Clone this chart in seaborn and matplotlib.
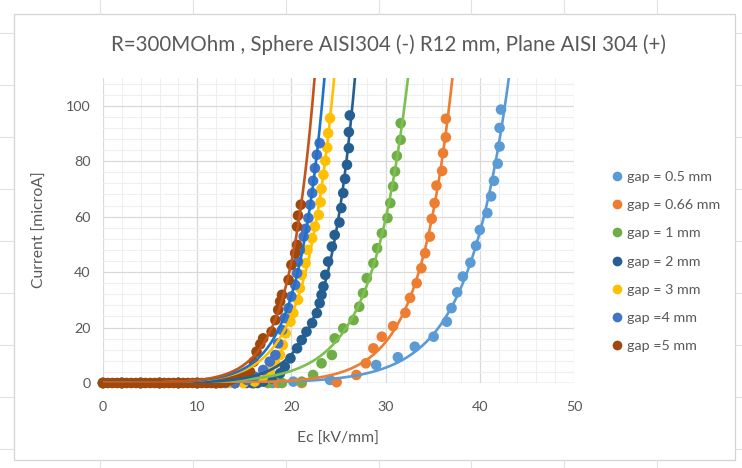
import numpy as np
import pandas as pd
import matplotlib
matplotlib.use("Agg")
import matplotlib.pyplot as plt
import seaborn as sns
from matplotlib.lines import Line2D
from matplotlib.patches import Rectangle

# ---------------- data ----------------
title = "R=300MOhm , Sphere AISI304 (-) R12 mm, Plane AISI 304 (+)"
x_label = "Ec [kV/mm]"
y_label = "Current [microA]"
labels = ["gap = 0.5 mm", "gap = 0.66 mm", "gap = 1 mm", "gap = 2 mm",
          "gap = 3 mm", "gap =4 mm", "gap =5 mm"]
point_colors = ["#5B9BD5", "#ED7D31", "#70AD47", "#255E91",
                "#FFC000", "#4472C4", "#9E480E"]
line_colors = ["#5B9BD5", "#ED7D31", "#7CC14F", "#255E91",
               "#FFC000", "#1A73C8", "#C0561A"]
x_ticks = [0, 10, 20, 30, 40, 50]
y_ticks = [0, 20, 40, 60, 80, 100]

ec_05 = [0, 2, 4, 6, 8, 10, 12, 14, 16, 18, 20.2, 24.1, 29.0, 31.3, 33.1, 35.1,
         36.5, 37.0, 37.6, 38.2, 39.0, 39.6, 40.0, 40.8, 41.2, 41.5, 41.9, 42.1,
         42.1, 42.25]
i_05 = [0, 0, 0, 0, 0, 0, 0, 0, 0, 0, 0.5, 1.1, 6.5, 9.3, 13.1, 16.7,
        22.1, 27.0, 32.7, 38.4, 43.4, 49.5, 55.2, 61.3, 67.3, 72.9, 79.1, 85.3,
        92.0, 98.6]

ec_066 = [0, 2, 4, 6, 8, 10, 12, 14, 16, 18.6, 21.1, 24.8, 26.9, 27.9, 28.7,
          29.6, 30.8, 32.1, 32.6, 33.3, 33.8, 34.2, 34.7, 34.9, 35.2, 35.4,
          36.0, 36.1, 36.4, 36.4]
i_066 = [0, 0, 0, 0, 0, 0, 0, 0, 0, 0, 0, 0.3, 2.9, 7.1, 12.5,
         16.7, 20.5, 25.3, 30.7, 36.0, 41.4, 46.8, 52.8, 59.2, 64.9, 71.2,
         76.5, 82.9, 88.6, 95.3]

ec_1 = [0, 2, 4, 6, 8, 10, 12, 14, 16, 17.5, 19.0, 21.1, 22.3, 23.2, 24.3,
        24.6, 25.5, 26.6, 27.2, 27.6, 28.0, 28.7, 29.1, 29.6, 30.2, 30.5,
        30.8, 31.0, 31.2, 31.6, 31.6]
i_1 = [0, 0, 0, 0, 0, 0, 0, 0, 0, 0, 0, 0.5, 2.9, 7.1, 10.1,
       16.1, 19.7, 22.7, 27.5, 32.4, 37.8, 43.2, 48.6, 54.0, 59.5, 64.9,
       70.9, 76.3, 81.9, 87.7, 93.7]

ec_2 = [0, 2, 4, 6, 8, 10, 12, 14, 15.2, 15.8, 16.4, 17.0, 17.9, 18.8, 19.3,
        19.9, 20.6, 21.1, 21.6, 22.2, 22.7, 23.0, 23.2, 23.4, 23.6, 23.9, 24.3,
        24.6, 25.1, 25.3, 25.5, 25.7, 25.9, 26.1, 26.1, 26.2]
i_2 = [0, 0, 0, 0, 0, 0, 0, 0, 0, 0, 0, 0.5, 1.7, 3.5, 5.9,
       8.9, 12.5, 15.5, 18.5, 21.6, 25.2, 28.8, 31.8, 34.8, 39.0, 43.8, 49.2,
       53.4, 57.9, 63.1, 68.5, 73.6, 78.7, 84.7, 90.5, 96.5]

ec_3 = [0, 2, 4, 6, 8, 10, 12, 13.5, 14.9, 16.1, 17.0, 17.7, 18.3, 18.8,
        19.1, 19.4, 19.9, 20.2, 20.7, 20.9, 21.1, 21.5, 21.7, 22.2, 22.5, 22.9,
        23.1, 23.2, 23.4, 23.6, 23.8, 23.9, 24.1]
i_3 = [0, 0, 0, 0, 0, 0, 0, 0, 0, 0.5, 2.3, 4.1, 7.1, 10.1,
       13.7, 17.9, 22.1, 25.2, 30.0, 34.2, 39.0, 43.2, 48.0, 52.2, 56.4, 60.6,
       65.2, 70.0, 75.1, 80.1, 84.9, 90.1, 95.5]

ec_4 = [0, 2, 4, 6, 8, 10, 12, 13.0, 14.0, 15.3, 16.1, 17.0, 17.7, 18.3,
        18.6, 19.0, 19.3, 19.7, 20.0, 20.4, 20.6, 20.7, 20.9, 21.3, 21.5, 21.8,
        22.0, 22.2, 22.3, 22.5, 22.7, 23.0]
i_4 = [0, 0, 0, 0, 0, 0, 0, 0, 0, 1.1, 2.3, 4.7, 7.7, 10.1,
       14.3, 19.1, 23.4, 27.0, 31.2, 35.4, 39.6, 43.8, 48.0, 52.8, 55.6, 59.5,
       64.3, 68.5, 72.9, 77.5, 82.3, 86.5]

ec_5 = [0, 0.5, 1, 1.5, 2, 2.5, 3, 3.5, 4, 4.5, 5, 5.5, 6, 6.5, 7, 7.5, 8,
        8.5, 9, 9.5, 10, 10.5, 11, 11.5, 12, 12.5, 13.0, 13.5, 13.9, 14.5,
        15.0, 15.6, 16.0, 16.3, 16.7, 17.0, 17.9, 18.3, 18.6, 18.8, 19.0, 19.7,
        20.0, 20.4, 20.6, 20.6, 20.7, 21.0]
i_5 = [0, 0, 0, 0, 0, 0, 0, 0, 0, 0, 0, 0, 0, 0, 0, 0, 0,
       0, 0, 0, 0, 0, 0, 0, 0, 0, 0.3, 1.1, 1.6, 2.3,
       3.0, 4.1, 7.7, 11.3, 14.0, 16.1, 18.5, 22.7, 26.4, 29.4, 31.8, 37.2,
       42.6, 46.8, 49.8, 56.4, 60.4, 64.3]

series_x = [ec_05, ec_066, ec_1, ec_2, ec_3, ec_4, ec_5]
series_y = [i_05, i_066, i_1, i_2, i_3, i_4, i_5]

frames = []
for lab, xs, ys in zip(labels, series_x, series_y):
    frames.append(pd.DataFrame({"Ec": xs, "I": ys, "gap": lab}))
df = pd.concat(frames, ignore_index=True)

# ---------------- style ----------------
sns.set_style("white")
plt.rcParams["font.family"] = ["Lato", "DejaVu Sans"]
txt = "#595959"

fig = plt.figure(figsize=(7.42, 4.68), dpi=100)
fig.patch.set_facecolor("white")

# spreadsheet background lines + chart border
W, H = 742.0, 468.0
def fx(p): return p / W
def fy(p): return 1 - p / H
cell = "#e2e2e2"
for xv in [100, 193, 286, 379, 471, 564, 657]:
    fig.add_artist(Line2D([fx(xv), fx(xv)], [fy(0), fy(14)], color=cell, lw=0.8))
    fig.add_artist(Line2D([fx(xv), fx(xv)], [fy(460), fy(468)], color=cell, lw=0.8))
for yv in [33, 85, 137, 189, 241, 293, 345, 397, 449]:
    fig.add_artist(Line2D([fx(0), fx(14)], [fy(yv), fy(yv)], color=cell, lw=0.8))
    fig.add_artist(Line2D([fx(735), fx(742)], [fy(yv), fy(yv)], color=cell, lw=0.8))
fig.add_artist(Rectangle((fx(14), fy(460)), fx(735) - fx(14), fy(14) - fy(460),
                         fill=False, edgecolor="#d4d4d4", lw=0.9))

ax = fig.add_axes([fx(103), fy(383), fx(574) - fx(103), fy(78) - fy(383)])
ax.set_facecolor("white")

ax.set_xlim(0, 50)
ax.set_ylim(0, 110)
ax.set_xticks(x_ticks)
ax.set_yticks(y_ticks)
ax.set_xticks(np.array([2, 4, 6, 8, 12, 14, 16, 18, 22, 24, 26, 28, 32, 34, 36, 38,
                        42, 44, 46, 48]), minor=True)
ax.set_yticks(np.array([4, 8, 12, 16, 24, 28, 32, 36, 44, 48, 52, 56, 64, 68, 72, 76,
                        84, 88, 92, 96, 104, 108]), minor=True)
ax.grid(which="major", color="#d9d9d9", lw=0.9, zorder=0)
ax.grid(which="minor", color="#efefef", lw=0.8, zorder=0)
ax.set_axisbelow(True)
for s in ax.spines.values():
    s.set_visible(False)
ax.axhline(0, color="#d9d9d9", lw=1.0, zorder=1)
ax.tick_params(which="both", length=0)
ax.tick_params(axis="x", pad=13, labelsize=10.3, labelcolor=txt)
ax.tick_params(axis="y", pad=9, labelsize=10.3, labelcolor=txt)

# points
sns.scatterplot(data=df, x="Ec", y="I", hue="gap", hue_order=labels,
                palette=point_colors, s=58, linewidth=0, edgecolor="none",
                legend=False, ax=ax, zorder=3, clip_on=False)

# exponential trend lines fitted to the read points
grid_x = np.linspace(0, 50, 800)
for xs, ys, col in zip(series_x, series_y, line_colors):
    xa = np.asarray(xs, float)
    ya = np.asarray(ys, float)
    m = ya >= 1
    b, lna = np.polyfit(xa[m], np.log(ya[m]), 1, w=ya[m])
    fit = np.minimum(np.exp(lna + b * grid_x), 300)
    sns.lineplot(x=grid_x, y=fit, color=col, lw=1.9, ax=ax, zorder=4)

ax.set_xlabel(x_label, fontsize=11.3, color=txt)
ax.set_ylabel(y_label, fontsize=11.3, color=txt)
ax.xaxis.set_label_coords((338 - 103) / 471, (383 - 432) / 305)
ax.yaxis.set_label_coords((47 - 103) / 471, (383 - 230) / 305)

fig.text(fx(388), fy(45), title, ha="center", va="center", fontsize=14.8, color=txt)

handles = [Line2D([], [], marker="o", linestyle="none", markersize=7,
                  markerfacecolor=c, markeredgecolor="none") for c in point_colors]
fig.legend(handles, labels, loc="center left", bbox_to_anchor=(fx(611), fy(261.5)),
           frameon=False, fontsize=10.3, labelcolor=txt, labelspacing=1.12,
           handlelength=0.8, handletextpad=0.35, borderpad=0, borderaxespad=0)

fig.savefig("out.png", dpi=100, facecolor="white")
